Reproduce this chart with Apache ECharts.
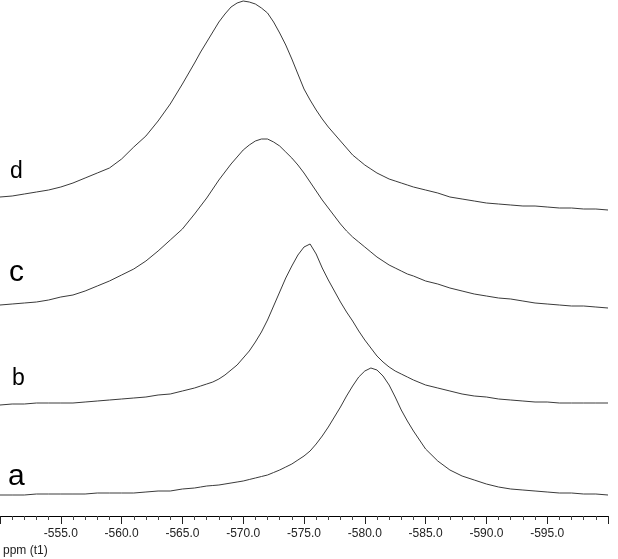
<!DOCTYPE html>
<html>
<head>
<meta charset="utf-8">
<script src="https://cdn.jsdelivr.net/npm/echarts@6/dist/echarts.min.js"></script>
<style>html,body{margin:0;padding:0;background:#fff}#c{width:618px;height:559px}</style>
</head>
<body>
<div id="c"></div>
<script>
// Chemical shift axis (ppm), shared by all traces (finer near the peaks)
var ppm = [-550,-551,-552,-553,-554,-555,-556,-557,-558,-559,-560,-561,-562,-563,-564,-565,
  -566,-566.5,-567,-567.5,-568,-568.5,-569,-569.5,-570,-570.5,-571,-571.5,-572,-572.5,-573,-573.5,-574,-574.5,-575,-575.5,-576,-576.5,-577,-577.5,-578,-578.5,-579,-579.5,-580,-580.5,-581,-581.5,-582,-582.5,-583,-583.5,-584,
  -585,-586,-587,-588,-589,-590,-591,-592,-593,-594,-595,-596,-597,-598,-599,-600];
// Stacked intensities (arbitrary units, vertical offset included)
var intA = [21,21,21,22,22,22,22,22,23,23,23,23,24,25,25,27,
  28,29,30,30.5,31,32,33,34,35,36.5,38,39.5,41,43.5,46,49,52,56,60,65,72,80,89,99,109,120,130,139,145,148,146,140,131,119,106,95,85,
  67,55,46,40,36,32,29,27,26,25,24,23,23,22,22,21];
var intB = [111,112,112,113,113,113,113,114,115,116,117,118,119,121,122,125,
  128,130,132,134,137,141,146,151,158,165,174,184,196,210,224,238,250,261,269,272,262,248,236,225,214,204,195,185,176,168,160,154,149,145,142,139,136,
  131,128,125,122,120,119,117,116,115,114,114,113,113,113,113,113];
var intC = [211,212,213,214,216,219,221,225,230,235,241,247,255,265,276,287,
  302,310,318,327,336,344,352,359,366,371,375,377,377,374,370,364,358,351,343,334,325,316,308,300,292,285,279,274,269,264,259,255,251,248,245,242,240,
  235,232,228,225,222,220,218,217,215,213,212,211,210,210,209,208];
var intD = [319,320,322,324,326,329,333,338,343,348,357,369,380,395,412,432,
  453,464,474,484,494,502,509,513,515,514,512,508,503,494,483,471,457,442,427,416,406,397,389,382,375,368,361,356,351,347,343,340,337,335,333,331,329,
  326,323,319,317,315,313,312,311,310,310,309,308,308,307,307,306];

var traceLabels = ['a','b','c','d'];
var tickValues = [-555,-560,-565,-570,-575,-580,-585,-590,-595];
var axisTitle = 'ppm (t1)';

function pairs(xs, ys){ return xs.map(function(x,i){ return [x, ys[i]]; }); }

var chart = echarts.init(document.getElementById('c'), null, {renderer:'canvas'});
var lineStyle = {color:'#3a3a3a', width:1};
function mk(name, ys){
  return {name:name, type:'line', data:pairs(ppm, ys), showSymbol:false, symbol:'none',
    smooth:false, lineStyle:lineStyle, silent:true};
}
var font = 'Liberation Sans, Arial, sans-serif';
chart.setOption({
  animation:false,
  grid:{left:0, right:10, top:0, bottom:43, containLabel:false},
  xAxis:{
    type:'value', min:-600, max:-550, interval:5, inverse:true,
    axisLine:{show:true, lineStyle:{color:'#000', width:1}},
    axisTick:{show:true, length:8, lineStyle:{color:'#222'}},
    minorTick:{show:true, splitNumber:5, length:4, lineStyle:{color:'#444'}},
    splitLine:{show:false},
    axisLabel:{show:true, margin:12, fontSize:12, fontFamily:font, color:'#222',
      showMinLabel:false, showMaxLabel:false,
      formatter:function(v){ return tickValues.indexOf(v) >= 0 ? v.toFixed(1) : ''; }}
  },
  yAxis:{type:'value', min:0, max:516, show:false},
  series:[mk('a', intA), mk('b', intB), mk('c', intC), mk('d', intD)],
  graphic:[
    {type:'text', x:10, y:172, style:{text:traceLabels[3], font:'23px '+font, fill:'#000', verticalAlign:'middle'}},
    {type:'text', x:9, y:273, style:{text:traceLabels[2], font:'30px '+font, fill:'#000', verticalAlign:'middle'}},
    {type:'text', x:12, y:379, style:{text:traceLabels[1], font:'23px '+font, fill:'#000', verticalAlign:'middle'}},
    {type:'text', x:8, y:477, style:{text:traceLabels[0], font:'30px '+font, fill:'#000', verticalAlign:'middle'}},
    {type:'text', x:3, y:551, style:{text:axisTitle, font:'12px '+font, fill:'#222', verticalAlign:'middle'}}
  ]
});
</script>
</body>
</html>
